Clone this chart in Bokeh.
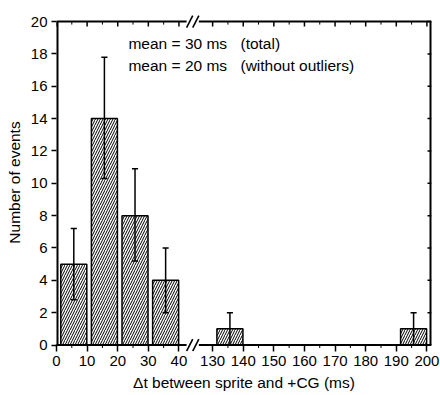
from bokeh.plotting import figure
from bokeh.models import FixedTicker, Label, Range1d, ColumnDataSource
from bokeh.embed import file_html
from bokeh.resources import INLINE

# ---- data ----
bin_start = [0, 10, 20, 30, 130, 190]
counts = [5, 14, 8, 4, 1, 1]
err_upper = [7.2, 17.8, 10.9, 6.0, 2.0, 2.0]
err_lower = [2.8, 10.3, 5.2, 2.0, 0.0, 0.0]
x_tick_values = [0, 10, 20, 30, 40, 130, 140, 150, 160, 170, 180, 190, 200]
y_tick_values = [0, 2, 4, 6, 8, 10, 12, 14, 16, 18, 20]
note_left = ["mean = 30 ms", "mean = 20 ms"]
note_right = ["(total)", "(without outliers)"]
x_label = "\u0394t between sprite and +CG (ms)"
y_label = "Number of events"

# ---- broken-axis transform ----
BREAK_LO, BREAK_HI, GAP = 40, 130, 11


def axis_pos(x):
    return x if x <= BREAK_LO else x - (BREAK_HI - BREAK_LO) + GAP


FONT = "Liberation Sans"
X_MAX, Y_MIN, Y_MAX = 122.5, 0, 20
PX_X = 375 / X_MAX          # approx pixels per x unit
PX_Y = 338 / 20.9           # approx pixels per y unit

# frame extends a little beyond the drawn top/bottom lines so break marks are not clipped
p = figure(width=440, height=395, x_range=Range1d(0, X_MAX), y_range=Range1d(-0.4, 20.5),
           output_backend="svg", toolbar_location=None,
           min_border_left=56, min_border_right=9, min_border_top=13, min_border_bottom=44)
p.xgrid.visible = False
p.ygrid.visible = False
p.outline_line_color = None
p.background_fill_color = "white"
p.border_fill_color = "white"

# bars
lefts = [axis_pos(s) + 1.4 for s in bin_start]
rights = [axis_pos(s) + 9.9 for s in bin_start]
centers = [(l + r) / 2 for l, r in zip(lefts, rights)]
src = ColumnDataSource(dict(left=lefts, right=rights, top=counts, bottom=[0] * len(counts),
                            cx=centers, lo=err_lower, hi=err_upper,
                            c0=[c - 1.0 for c in centers], c1=[c + 1.0 for c in centers]))
p.quad(left="left", right="right", top="top", bottom="bottom", source=src,
       fill_color="white", line_color="black", line_width=1.5,
       hatch_pattern="/", hatch_color="black", hatch_scale=5, hatch_weight=1)

# error bars
p.segment(x0="cx", y0="lo", x1="cx", y1="hi", source=src, line_color="black", line_width=1.5)
p.segment(x0="c0", y0="hi", x1="c1", y1="hi", source=src, line_color="black", line_width=1.5)
p.segment(x0="c0", y0="lo", x1="c1", y1="lo", source=src, line_color="black", line_width=1.5)

# ---- frame lines (with a gap at the axis break) ----
brk = axis_pos(BREAK_LO) + 4.5
gap_half = 2.0
for yv in (Y_MIN, Y_MAX):
    p.segment(x0=[0, brk + gap_half], y0=[yv, yv], x1=[brk - gap_half, X_MAX], y1=[yv, yv],
              line_color="black", line_width=2)
p.segment(x0=[0, X_MAX], y0=[Y_MIN, Y_MIN], x1=[0, X_MAX], y1=[Y_MAX, Y_MAX],
          line_color="black", line_width=4)  # half of it is clipped at the frame edge

# break marks "//"
sx, sy = 1.0, 6 / PX_Y
for yv in (Y_MIN, Y_MAX):
    cs = [brk - 1.0, brk + 1.0]
    p.segment(x0=[c - sx for c in cs], y0=[yv - sy] * 2, x1=[c + sx for c in cs], y1=[yv + sy] * 2,
              line_color="black", line_width=1.6)

# ticks
major_x = [axis_pos(v) for v in x_tick_values]
minor_x = [axis_pos(v) + 5 for v in x_tick_values if v not in (BREAK_LO, x_tick_values[-1])]
overrides = {axis_pos(v): str(v) for v in x_tick_values}


def style_axis(ax):
    ax.axis_line_color = None
    ax.major_tick_line_color = "black"
    ax.major_tick_line_width = 1.5
    ax.minor_tick_line_color = None
    ax.major_label_text_font = FONT
    ax.major_label_text_font_size = "15px"
    ax.major_label_text_color = "black"
    ax.axis_label_text_font = FONT
    ax.axis_label_text_font_size = "15.5px"
    ax.axis_label_text_font_style = "normal"
    ax.axis_label_text_color = "black"


xa = p.xaxis[0]
style_axis(xa)
xa.ticker = FixedTicker(ticks=major_x)
xa.major_label_overrides = overrides
xa.major_tick_out = 0
xa.major_tick_in = 7
xa.major_label_standoff = 4
xa.axis_label = x_label
xa.axis_label_standoff = 5

ya = p.yaxis[0]
style_axis(ya)
ya.ticker = FixedTicker(ticks=y_tick_values)
ya.major_tick_out = 5
ya.major_tick_in = 0
ya.major_label_standoff = 4
ya.axis_label = y_label
ya.axis_label_standoff = 5

# bottom minor ticks (outward) and mirrored inward ticks on top and right edges
BOT_MIN, TOP_MAJ, TOP_MIN, RIGHT_LEN = 3 / PX_Y, 5 / PX_Y, 3 / PX_Y, 4 / PX_X
p.segment(x0=minor_x, y0=[Y_MIN] * len(minor_x), x1=minor_x,
          y1=[Y_MIN - BOT_MIN] * len(minor_x), line_color="black", line_width=1)
p.segment(x0=major_x, y0=[Y_MAX] * len(major_x), x1=major_x,
          y1=[Y_MAX - TOP_MAJ] * len(major_x), line_color="black", line_width=1.5)
p.segment(x0=minor_x, y0=[Y_MAX] * len(minor_x), x1=minor_x,
          y1=[Y_MAX - TOP_MIN] * len(minor_x), line_color="black", line_width=1)
p.segment(x0=[X_MAX] * len(y_tick_values), y0=y_tick_values,
          x1=[X_MAX - RIGHT_LEN] * len(y_tick_values), y1=y_tick_values,
          line_color="black", line_width=1.5)

# annotation text
for i, (a, b) in enumerate(zip(note_left, note_right)):
    yv = 18.67 - 1.36 * i
    p.add_layout(Label(x=23.5, y=yv, text=a, text_baseline="middle", text_font=FONT,
                       text_font_size="15.5px", text_color="black"))
    p.add_layout(Label(x=60.1, y=yv, text=b, text_baseline="middle", text_font=FONT,
                       text_font_size="15.5px", text_color="black"))

open("out.html", "w").write(file_html(p, INLINE))
